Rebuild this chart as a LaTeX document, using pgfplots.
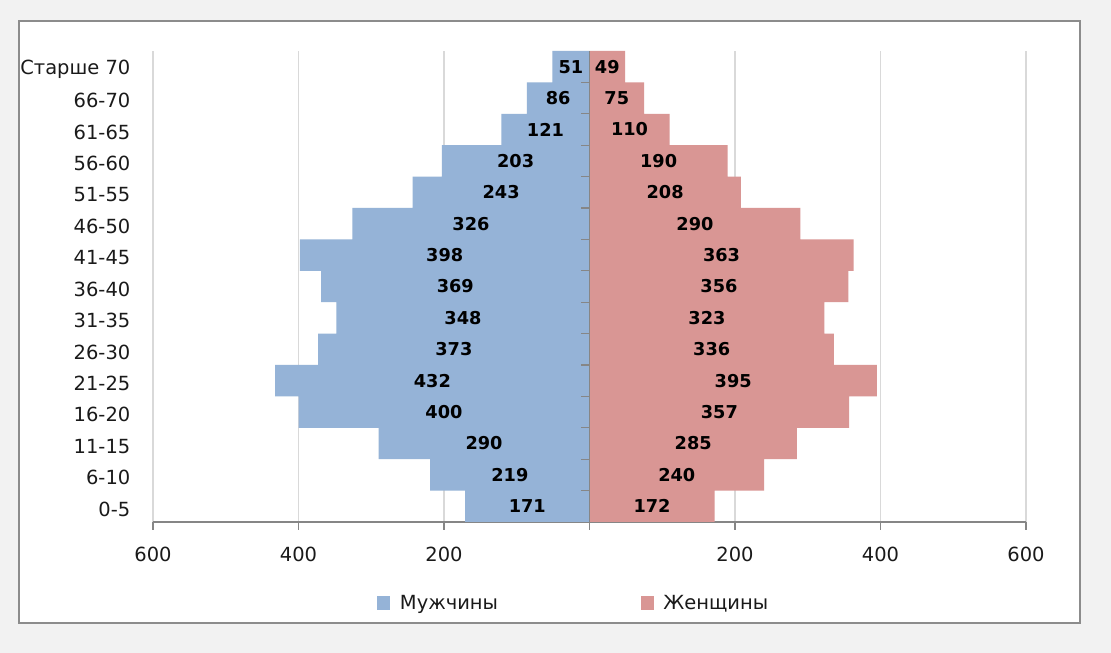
\documentclass[border=0pt]{standalone}
\usepackage{pgfplots}
\pgfplotsset{compat=1.18}
\usepackage{pgfplotstable}
\usepackage{fontspec}
\setmainfont{DejaVu Sans}
\definecolor{bggray}{HTML}{F2F2F2}
\definecolor{bordergray}{HTML}{8C8C8C}
\definecolor{axisgray}{HTML}{868686}
\definecolor{gridgray}{HTML}{D9D9D9}
\definecolor{menblue}{HTML}{95B3D7}
\definecolor{womenred}{HTML}{D99694}
\definecolor{txt}{HTML}{1A1A1A}
\pgfplotstableread{
y m w
0 171 172
1 219 240
2 290 285
3 400 357
4 432 395
5 373 336
6 348 323
7 369 356
8 398 363
9 326 290
10 243 208
11 203 190
12 121 110
13 86 75
14 51 49
}\data
\begin{document}
\begin{tikzpicture}
\fill[bggray] (0pt,0pt) rectangle (833.25pt,489.75pt);
\filldraw[fill=white, draw=bordergray, line width=1.1pt] (14.25pt,22.5pt) rectangle (810pt,474pt);
\begin{axis}[
  at={(114.75pt,98.25pt)}, anchor=south west,
  scale only axis, width=654.75pt, height=353.25pt,
  xmin=-600, xmax=600, ymin=-0.5, ymax=14.5,
  axis x line*=bottom, axis y line*=left,
  x axis line style={draw=axisgray, line width=0.8pt, -},
  y axis line style={draw=none},
  xtick={-600,-400,-200,0,200,400,600},
  xticklabels={600,400,200,,200,400,600},
  ytick={0,...,14},
  yticklabels={0-5,6-10,11-15,16-20,21-25,26-30,31-35,36-40,41-45,46-50,51-55,56-60,61-65,66-70,Старше 70},
  xtick style={draw=axisgray, line width=0.8pt},
  ytick style={draw=none},
  tick align=outside,
  major tick length=6pt,
  xmajorgrids, grid style={draw=gridgray, line width=0.8pt},
  ticklabel style={font=\fontsize{14.6}{16}\selectfont, text=txt},
  xticklabel style={yshift=-9pt},
  yticklabel style={anchor=east, xshift=-7.5pt, yshift=-2pt},
  legend columns=2,
  legend cell align=left,
  legend style={at={(0.2566,-0.172)}, anchor=west, draw=none, fill=none, inner sep=0pt,
    font=\fontsize{14.6}{16}\selectfont, text=txt,
    /tikz/every even column/.append style={column sep=105pt}},
]
\addplot[xbar, bar width=1, bar shift=0pt, fill=menblue, draw=none,
  legend image code/.code={\fill[menblue] (0pt,-4.9pt) rectangle (9.75pt,4.9pt); \path (15pt,0pt);}]
  table[x expr=-\thisrow{m}, y=y]{\data};
\addplot[xbar, bar width=1, bar shift=0pt, fill=womenred, draw=none,
  legend image code/.code={\fill[womenred] (0pt,-4.9pt) rectangle (9.75pt,4.9pt); \path (15pt,0pt);}]
  table[x=w, y=y]{\data};
\addplot[forget plot, draw=none, mark=none, nodes near coords, point meta=explicit symbolic,
  nodes near coords style={anchor=center, font=\fontsize{13.3}{15}\selectfont\bfseries, text=black}]
  table[x expr=-\thisrow{m}/2, y=y, meta=m]{\data};
\addplot[forget plot, draw=none, mark=none, nodes near coords, point meta=explicit symbolic,
  nodes near coords style={anchor=center, font=\fontsize{13.3}{15}\selectfont\bfseries, text=black}]
  table[x expr=\thisrow{w}/2, y=y, meta=w]{\data};
\draw[axisgray, line width=0.8pt] (axis cs:0,-0.5) -- (axis cs:0,14.5);
\pgfplotsinvokeforeach{0.5,1.5,...,13.5}{\draw[axisgray, line width=0.8pt] (axis cs:0,#1) -- ++(-6.75pt,0pt);}
\legend{Мужчины,Женщины}
\end{axis}
\end{tikzpicture}
\end{document}
